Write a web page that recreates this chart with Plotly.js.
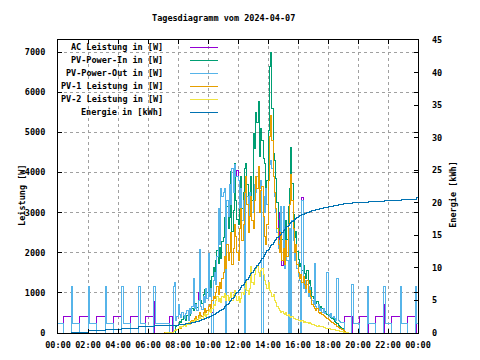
<!DOCTYPE html>
<html><head><meta charset="utf-8">
<script src="https://cdn.plot.ly/plotly-3.0.1.min.js"></script>
<style>html,body{margin:0;padding:0;background:#fff}#chart{width:480px;height:360px}
#chart .scatterlayer path, #chart .shapelayer path{shape-rendering:crispEdges}</style>
</head><body><div id="chart"></div>
<script>
// ---------------- DATA ----------------
const seriesNames = ["AC Leistung in [W]","PV-Power-In in [W]","PV-Power-Out in [W]","PV-1 Leistung in [W]","PV-2 Leistung in [W]","Energie in [kWh]"];
const xTickLabels = ["00:00","02:00","04:00","06:00","08:00","10:00","12:00","14:00","16:00","18:00","20:00","22:00","00:00"];

// AC Leistung: night change points (morning / evening) + 5-min daytime values from 07:40
const acAmT = ["00:00","00:21","00:52","01:25","02:01","02:32","03:09","03:41","04:15","04:48","05:23","05:49","06:21","06:27","07:25","07:38"];
const acAmV = [0,400,0,400,0,400,0,400,0,400,0,400,780,0,400,0];
const acDayStart = "07:40";
const acDay = [1150,1270,300,400,
 700,450,380,520,430,360,480,560,320,600,480,650,
 1370,600,700,550,1000,2070,650,580,900,750,1100,850,
 1970,900,1100,500,1300,1500,1200,1900,3100,2200,3600,3400,
 3500,3600,500,3300,2900,3700,3200,4100,3500,4200,3900,4050,
 3800,3100,3600,2800,3300,0,3700,3400,2900,3500,3200,3000,
 3300,3700,3500,3900,4000,3600,3800,3650,3400,3000,3600,3200,
 3800,4200,4300,4100,3900,3400,3000,2500,3000,2300,3150,1680,
 3150,1600,2200,1800,0,2600,0,2800,2300,1800,2000,1600,
 1400,1300,600,3380,1100,1300,1000,1200,900,1150,850,800,
 700,1740,650,600,700,560,620,520,600,480,520,1500,
 450,400,480,380,420,350,320,1350,300,280,260,250,
 250];
const acPmT = ["19:05","19:38","20:05","20:40","21:09","21:41","21:45","22:12","22:50","23:16","23:52","24:00"];
const acPmV = [400,0,400,0,400,700,0,400,0,400,0,0];

// PV-Power-In (5-min from 07:00)
const pvDayStart = "07:00";
const pvIn = [0,0,0,0,0,0,0,0,0,0,150,180,
 210,280,250,330,400,360,310,440,510,440,520,600,
 560,650,740,630,800,910,800,740,950,1090,900,1020,
 1180,1310,1140,1420,1620,1530,1800,2050,1730,2120,1860,2270,
 2380,2880,2420,3140,2600,2880,4020,2520,3050,4230,3300,2820,
 2700,3300,3900,3100,3500,4100,4230,3700,3000,3400,3900,3300,
 4975,4600,5500,5250,5760,4400,5100,4800,4350,4230,3400,3800,
 5050,6650,6980,5600,4475,4300,3850,3250,2820,2560,3000,2340,
 2580,2150,2800,2330,3160,3600,4620,3720,2960,2370,2530,2040,
 1820,1650,1740,1560,1670,1480,1360,1550,1240,1300,1130,910,
 850,790,740,790,680,640,670,605,570,530,500,465,
 440,400,375,350,325,295,270,230,195,165,140,110,
 70,45,25,10,0];

// PV-Power-Out: night change points + 5-min daytime values from 07:40
const outAmT = ["00:00","00:21","00:52","00:58","01:25","02:00","02:06","02:32","03:08","03:14","03:41","04:14","04:20","04:22","04:48","05:22","05:28","05:49","06:21","06:28","07:25"];
const outAmV = [225,0,1150,225,0,1150,225,0,1150,225,0,1150,800,225,0,1150,225,0,1150,225,0];
const outDayStart = "07:40";
const outDay = [1150,1270,300,400,
 700,450,380,520,430,360,480,560,320,600,480,650,
 1370,600,700,550,800,2070,650,580,900,750,1100,850,
 1970,900,1100,0,1300,1500,1200,1900,3100,2200,3600,3400,
 3500,3600,0,3300,2900,3700,3200,4100,3500,4200,3900,3900,
 3800,3100,3600,2800,3300,0,3700,3400,2900,3500,3200,3000,
 3300,3700,3500,3900,4000,3600,3800,0,3400,3000,3600,3200,
 3800,4200,4300,4100,3900,3400,3000,2500,2100,2300,3150,1800,
 3150,1600,2200,1800,0,2600,0,2800,2300,1800,2000,1600,
 1400,1300,0,3300,1100,1300,1000,1200,900,1150,850,800,
 700,1740,650,600,700,560,620,520,600,480,520,1500,
 450,400,480,380,420,350,320,1350,300,280,260,250,
 250];
const outPmT = ["19:05","19:35","19:40","20:05","20:36","20:43","21:09","21:41","21:48","22:12","22:48","22:55","23:16","23:49","23:55","24:00"];
const outPmV = [0,1200,225,0,1150,225,0,1150,225,0,1150,225,0,1150,225,225];

// PV-1 (5-min from 07:00)
const pv1 = [0,5,10,15,20,25,10,20,40,60,80,90,
 100,130,120,160,200,180,150,220,260,230,280,320,
 300,350,400,340,430,500,440,400,520,600,500,560,
 650,720,620,800,900,850,1000,1150,950,1250,1100,1350,
 1500,1900,1600,2200,1800,2000,2500,1700,2100,2700,2400,2000,
 1800,2600,3100,2300,2700,3500,3900,3200,2500,2900,3400,2800,
 2600,3300,3900,3600,4150,3000,3550,3650,2900,2400,2200,2700,
 3800,4900,5430,4800,3900,3500,3100,2600,2200,2000,2500,1800,
 2100,1700,2300,1900,2700,3200,3940,3300,2600,2000,2200,1700,
 1500,1350,1450,1250,1400,1200,1100,1300,1000,1050,900,700,
 650,600,560,620,500,480,520,450,430,400,380,350,
 330,300,280,260,240,220,200,170,140,120,100,80,
 50,30,15,5,0];

// PV-2 (5-min from 07:00)
const pv2 = [0,0,5,5,10,10,10,20,30,50,70,90,
 110,150,130,170,200,180,160,220,250,210,240,280,
 260,300,340,290,370,410,360,340,430,490,400,460,
 530,590,520,620,720,680,800,900,780,870,760,920,
 880,980,820,940,800,880,1000,820,950,1050,900,820,
 900,750,850,1000,950,1100,1300,1050,950,1100,1660,1250,
 1200,1450,1600,1650,1500,1400,1550,1600,1450,1300,1200,1100,
 1250,1050,1000,900,950,800,750,650,620,560,500,540,
 480,450,500,430,460,400,380,420,360,370,330,340,
 320,300,290,310,270,280,260,250,240,250,230,210,
 200,190,180,170,180,160,150,155,140,130,120,115,
 110,100,95,90,85,75,70,60,55,45,40,30,
 20,15,10,5,0];

// Energie [kWh]: night change points + 5-min daytime values from 07:30
const enAmT = ["00:00","00:55","02:01","03:09","04:15","05:23","06:27"];
const enAmV = [0,0.15,0.35,0.55,0.75,0.95,1.15];
const enDayStart = "07:30";
const enDay = [1.15,1.15,1.16,1.18,1.2,1.22,
 1.25,1.27,1.29,1.31,1.33,1.36,1.4,1.43,1.46,1.5,1.53,1.56,
 1.6,1.65,1.7,1.76,1.82,1.88,1.95,2.02,2.1,2.18,2.26,2.33,
 2.4,2.5,2.6,2.7,2.8,2.9,3.0,3.12,3.25,3.38,3.52,3.66,
 3.8,4.0,4.2,4.4,4.6,4.8,5.0,5.25,5.5,5.75,6.0,6.25,
 6.5,6.75,7.0,7.25,7.5,7.75,8.0,8.27,8.54,8.81,9.08,9.35,
 9.6,9.85,10.1,10.35,10.6,10.85,11.1,11.4,11.7,12.0,12.3,12.6,
 12.9,13.15,13.4,13.65,13.9,14.15,14.4,14.6,14.8,15.0,15.2,15.45,
 15.7,15.92,16.14,16.36,16.58,16.8,17.0,17.15,17.3,17.45,17.6,17.75,
 17.9,17.98,18.06,18.14,18.22,18.3,18.4,18.47,18.54,18.61,18.68,18.74,
 18.8,18.85,18.9,18.95,19.0,19.05,19.1,19.15,19.2,19.25,19.3,19.35,
 19.4,19.43,19.46,19.5,19.53,19.56,19.6,19.64,19.68,19.72,19.76,19.8,
 19.85];
const enPmT = ["19:15","19:38","20:40","21:45","22:52","23:55","24:00"];
const enPmV = [19.95,20.05,20.25,20.4,20.55,20.75,20.75];

// ---------------- HELPERS ----------------
function toMin(hhmm){const p=hhmm.split(':').map(Number);return p[0]*60+p[1];}
function ts(min){return new Date(Date.UTC(2024,3,7,0,min)).toISOString().slice(0,16).replace('T',' ');}
function pts(list){return list.map(t=>ts(toMin(t)));}
function grid(start,n){const s=toMin(start);return Array.from({length:n},(_,i)=>ts(s+5*i));}

const colors = ["#9400d3","#009e73","#56b4e9","#e69f00","#f0e442","#0072b2"];
const FONT = "DejaVu Sans Mono, monospace";
const TXT = {family:FONT,size:8.5,color:'#000',weight:'bold'};

const traces = [
 {x:pts(acAmT).concat(grid(acDayStart,acDay.length),pts(acPmT)), y:acAmV.concat(acDay,acPmV)},
 {x:grid(pvDayStart,pvIn.length), y:pvIn},
 {x:pts(outAmT).concat(grid(outDayStart,outDay.length),pts(outPmT)), y:outAmV.concat(outDay,outPmV)},
 {x:grid(pvDayStart,pv1.length), y:pv1},
 {x:grid(pvDayStart,pv2.length), y:pv2},
 {x:pts(enAmT).concat(grid(enDayStart,enDay.length),pts(enPmT)), y:enAmV.concat(enDay,enPmV), yaxis:'y2'}
].map((t,i)=>Object.assign({type:'scatter',mode:'lines',name:seriesNames[i],
   line:{color:colors[i],width:1,shape:'hv'},hoverinfo:'skip'},t));

// legend drawn gnuplot-style: right-aligned text, then sample line
const legY = [0.9745,0.9302,0.887,0.8417,0.7975,0.754];
const annotations = seriesNames.map((n,i)=>({xref:'paper',yref:'paper',x:0.297,y:legY[i],
  xanchor:'right',yanchor:'middle',text:n,showarrow:false,font:TXT}));
const shapes = seriesNames.map((n,i)=>({type:'line',xref:'paper',yref:'paper',x0:0.3667,x1:0.4444,
  y0:legY[i],y1:legY[i],line:{color:colors[i],width:1}}));
annotations.push({xref:'paper',yref:'paper',x:-0.1,y:0.468,textangle:-90,text:'Leistung [W]',showarrow:false,
  xanchor:'center',yanchor:'middle',font:TXT});
annotations.push({xref:'paper',yref:'paper',x:1.097,y:0.475,textangle:-90,text:'Energie [kWh]',showarrow:false,
  xanchor:'center',yanchor:'middle',font:TXT});

const tickVals = xTickLabels.map((l,i)=>ts(i*120));

const layout = {
 width:480,height:360,margin:{l:58,r:62,t:40,b:27},
 paper_bgcolor:'#fff',plot_bgcolor:'#fff',showlegend:false,
 font:TXT,
 title:{text:'Tagesdiagramm vom 2024-04-07',x:0.466,xanchor:'center',xref:'container',y:0.95,yref:'container',yanchor:'middle',
   font:TXT},
 xaxis:{type:'date',range:[ts(0),ts(1440)],tickmode:'array',tickvals:tickVals,ticktext:xTickLabels,tickfont:TXT,
   showline:true,linecolor:'#000',linewidth:1,mirror:'ticks',ticks:'inside',ticklen:4,tickcolor:'#000',
   showgrid:true,gridcolor:'#a0a0a0',griddash:'3px,3px',gridwidth:1,zeroline:false,ticklabelstandoff:4},
 yaxis:{range:[0,7300],dtick:1000,tick0:0,showline:true,linecolor:'#000',linewidth:1,mirror:'ticks',tickfont:TXT,
   ticks:'inside',ticklen:4,tickcolor:'#000',showgrid:true,gridcolor:'#a0a0a0',griddash:'3px,3px',gridwidth:1,
   zeroline:false,ticklabelstandoff:10},
 yaxis2:{overlaying:'y',side:'right',range:[0,45],dtick:5,tick0:0,ticks:'inside',ticklen:4,tickcolor:'#000',tickfont:TXT,
   showgrid:false,zeroline:false,showline:false,ticklabelstandoff:13},
 annotations:annotations,shapes:shapes
};
Plotly.newPlot('chart',traces,layout,{staticPlot:true,displayModeBar:false});
</script></body></html>
